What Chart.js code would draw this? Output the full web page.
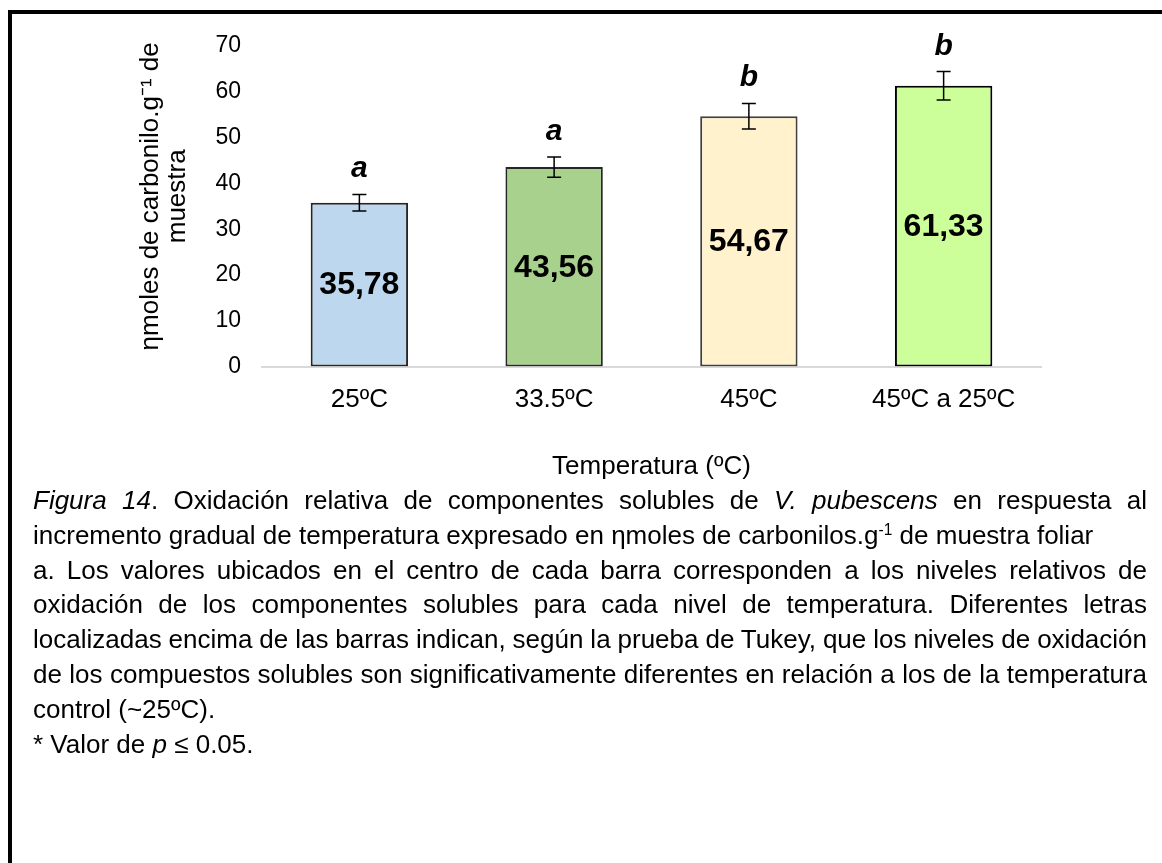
<!DOCTYPE html>
<html>
<head>
<meta charset="utf-8">
<script src="https://cdn.jsdelivr.net/npm/chart.js@4.4.1/dist/chart.umd.min.js"></script>
<style>
  html, body { margin: 0; padding: 0; background: #fff; }
  #page { position: relative; width: 1162px; height: 863px; overflow: hidden; background: #fff; font-family: "Liberation Sans", Arial, sans-serif; }
  #chart-box { position: absolute; left: 0; top: 0; width: 1162px; height: 490px; }
  #frame { position: absolute; left: 8px; top: 10px; right: -10px; bottom: -10px; border-top: 4px solid #000; border-left: 4px solid #000; pointer-events: none; }
  #caption { position: absolute; left: 33px; top: 483px; width: 1114px; font-size: 26px; line-height: 34.8px; color: #000; }
  #caption div { white-space: nowrap; }
  #caption .j { text-align: justify; text-align-last: justify; word-spacing: -1px; }
  #caption sup { font-size: 0.6em; vertical-align: 0.55em; line-height: 0; }
</style>
</head>
<body>
<div id="page">
  <div id="chart-box"><canvas id="bar-chart" width="1162" height="490"></canvas></div>
  <div id="frame"></div>
  <div id="caption">
    <div class="j"><i>Figura 14</i>. Oxidación relativa de componentes solubles de <i>V. pubescens</i> en respuesta al</div>
    <div>incremento gradual de temperatura expresado en ηmoles de carbonilos.g<sup>-1</sup> de muestra foliar</div>
    <div class="j">a. Los valores ubicados en el centro de cada barra corresponden a los niveles relativos de</div>
    <div class="j">oxidación de los componentes solubles para cada nivel de temperatura. Diferentes letras</div>
    <div class="j">localizadas encima de las barras indican, según la prueba de Tukey, que los niveles de oxidación</div>
    <div class="j">de los compuestos solubles son significativamente diferentes en relación a los de la temperatura</div>
    <div>control (~25ºC).</div>
    <div>* Valor de <i>p</i> ≤ 0.05.</div>
  </div>
</div>
<script>
// data
const categories = ['25ºC', '33.5ºC', '45ºC', '45ºC a 25ºC'];
const values = [35.78, 43.56, 54.67, 61.33];
const valueLabels = ['35,78', '43,56', '54,67', '61,33'];
const errors = [1.8, 2.2, 2.8, 3.1];
const letters = ['a', 'a', 'b', 'b'];
const yTitle = ['ηmoles de carbonilo.g⁻¹ de', 'muestra'];
const yMin = 0;
const yMax = 70;
const yStep = 10;

const FONT = '"Liberation Sans", Arial, sans-serif';
const barColors = ['#bdd7ee', '#a9d18e', '#fff2cc', '#ccff99'];
const barBorders = ['#262626', '#262626', '#404040', '#000000'];

// error bars, value labels inside bars, Tukey letters on top
const barNotes = {
    id: 'barNotes',
    afterDatasetsDraw(chart) {
        const ctx = chart.ctx;
        const yScale = chart.scales.y;
        const bars = chart.getDatasetMeta(0).data;
        ctx.save();
        bars.forEach((bar, i) => {
            const x = bar.x;
            const yHi = yScale.getPixelForValue(values[i] + errors[i]);
            const yLo = yScale.getPixelForValue(values[i] - errors[i]);

            ctx.strokeStyle = '#000';
            ctx.lineWidth = 1.5;
            ctx.beginPath();
            ctx.moveTo(x, yHi); ctx.lineTo(x, yLo);
            ctx.moveTo(x - 7, yHi); ctx.lineTo(x + 7, yHi);
            ctx.moveTo(x - 7, yLo); ctx.lineTo(x + 7, yLo);
            ctx.stroke();

            ctx.fillStyle = '#000';
            ctx.textAlign = 'center';
            ctx.textBaseline = 'middle';
            ctx.font = 'bold 32px ' + FONT;
            ctx.fillText(valueLabels[i], x, (bar.y + bar.base) / 2 + 1);

            ctx.textBaseline = 'alphabetic';
            ctx.font = 'italic bold 30px ' + FONT;
            ctx.fillText(letters[i], x, yHi - 17);
        });

        // y axis title, two rotated lines, sitting a little above the plot centre
        const area = chart.chartArea;
        const midY = (area.top + area.bottom) / 2 - 10;
        ctx.font = '26px ' + FONT;
        ctx.fillStyle = '#000';
        ctx.textAlign = 'center';
        ctx.textBaseline = 'middle';
        yTitle.forEach((line, k) => {
            ctx.save();
            ctx.translate(151 + k * 27, midY);
            ctx.rotate(-Math.PI / 2);
            ctx.fillText(line, 0, 0);
            ctx.restore();
        });
        ctx.restore();
    }
};

const ctx = document.getElementById('bar-chart').getContext('2d');
const barChart = new Chart(ctx, {
    type: 'bar',
    data: {
        labels: categories,
        datasets: [{
            data: values,
            backgroundColor: barColors,
            borderColor: barBorders,
            borderWidth: 2,
            borderSkipped: false,
            barPercentage: 0.5,
            categoryPercentage: 1
        }]
    },
    options: {
        responsive: false,
        animation: false,
        layout: { padding: { left: 138, right: 121, top: 46, bottom: 8 } },
        plugins: {
            legend: { display: false },
            tooltip: { enabled: false }
        },
        scales: {
            x: {
                grid: { display: false, drawTicks: false },
                border: { color: '#d9d9d9', width: 2 },
                ticks: { color: '#000', padding: 18, font: { family: FONT, size: 26 } },
                title: {
                    display: true,
                    text: 'Temperatura (ºC)',
                    color: '#000',
                    font: { family: FONT, size: 26 },
                    padding: { top: 17, bottom: 0 }
                }
            },
            y: {
                min: yMin,
                max: yMax,
                grid: { display: false, drawTicks: false },
                border: { display: false },
                ticks: { stepSize: yStep, color: '#000', padding: 21, font: { family: FONT, size: 23 } },
                title: { display: false },
                afterFit(scale) { scale.width = 124; }
            }
        }
    },
    plugins: [barNotes]
});
</script>
</body>
</html>
